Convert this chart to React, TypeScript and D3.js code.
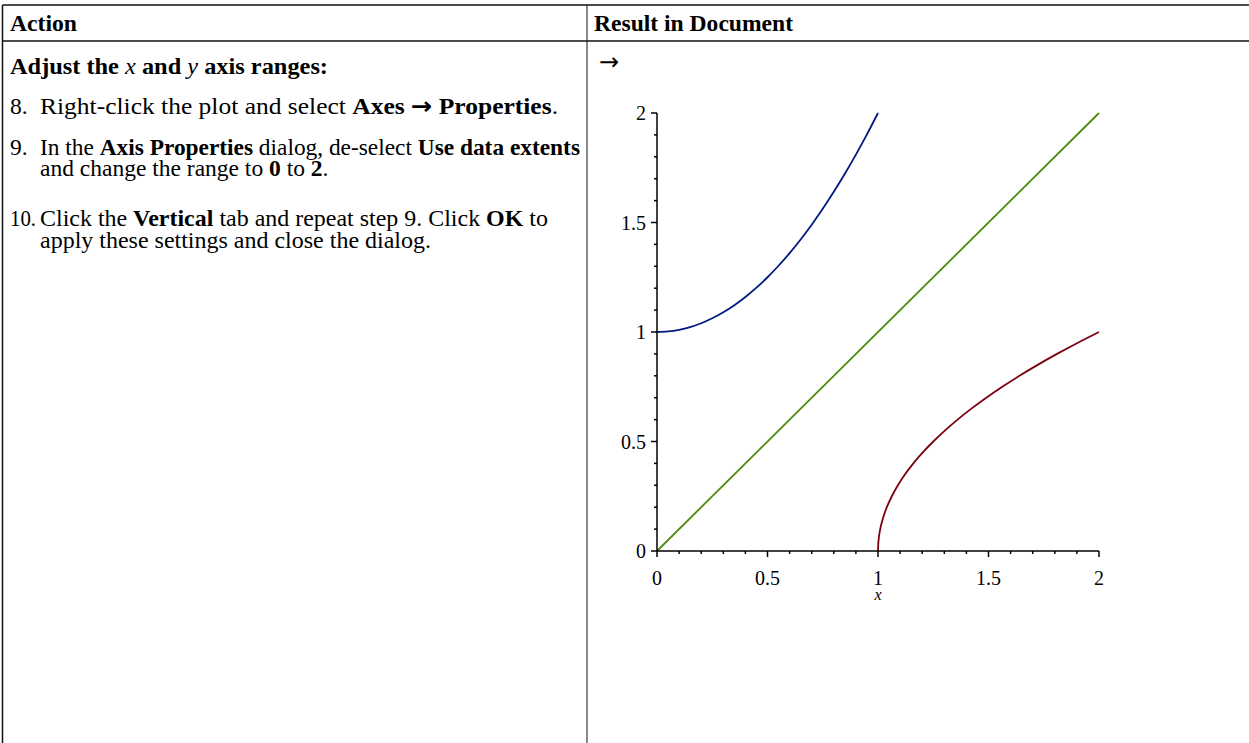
import React from "react";
import * as d3 from "d3";

// ---- data ----
const blueX = [0, 0.05, 0.1, 0.15, 0.2, 0.25, 0.3, 0.35, 0.4, 0.45, 0.5, 0.55, 0.6, 0.65, 0.7, 0.75, 0.8, 0.85, 0.9, 0.95, 1.0];
const blueY = [1, 1.0025, 1.01, 1.0225, 1.04, 1.0625, 1.09, 1.1225, 1.16, 1.2025, 1.25, 1.3025, 1.36, 1.4225, 1.49, 1.5625, 1.64, 1.7225, 1.81, 1.9025, 2.0];
const redX = [1, 1.0025, 1.01, 1.0225, 1.04, 1.0625, 1.09, 1.1225, 1.16, 1.2025, 1.25, 1.3025, 1.36, 1.4225, 1.49, 1.5625, 1.64, 1.7225, 1.81, 1.9025, 2.0];
const redY = [0, 0.05, 0.1, 0.15, 0.2, 0.25, 0.3, 0.35, 0.4, 0.45, 0.5, 0.55, 0.6, 0.65, 0.7, 0.75, 0.8, 0.85, 0.9, 0.95, 1.0];
const greenX = [0, 2];
const greenY = [0, 2];
const majorTicks = [0, 0.5, 1, 1.5, 2];
const tickLabels = ["0", "0.5", "1", "1.5", "2"];
const minorTicks = [0.1, 0.2, 0.3, 0.4, 0.6, 0.7, 0.8, 0.9, 1.1, 1.2, 1.3, 1.4, 1.6, 1.7, 1.8, 1.9];

const W = 1249;
const H = 743;
const FONT = "'Liberation Serif', 'Times New Roman', serif";
const ARROW_FONT = "'DejaVu Sans', sans-serif";
const FS = 23.5;

type Part = { t: string; b?: boolean; i?: boolean; a?: boolean };

export default function App() {
  const x = d3.scaleLinear().domain([0, 2]).range([657, 1099]);
  const y = d3.scaleLinear().domain([0, 2]).range([551, 113]);
  const line = d3
    .line<[number, number]>()
    .x((d) => x(d[0]))
    .y((d) => y(d[1]))
    .curve(d3.curveCatmullRom.alpha(0.5));
  const zip = (a: number[], b: number[]) => a.map((v, i) => [v, b[i]] as [number, number]);

  const bodyLines: { n?: string; nw?: number; parts: Part[]; y: number; end?: number }[] = [
    { n: "8.", y: 114, end: 558, parts: [{ t: "Right-click the plot and select " }, { t: "Axes ", b: true }, { t: "\u2192", b: true, a: true }, { t: " Properties", b: true }, { t: "." }] },
    { n: "9.", y: 155, end: 580, parts: [{ t: "In the " }, { t: "Axis Properties", b: true }, { t: " dialog, de-select " }, { t: "Use data extents", b: true }] },
    { y: 176, parts: [{ t: "and change the range to " }, { t: "0", b: true }, { t: " to " }, { t: "2", b: true }, { t: "." }] },
    { n: "10.", nw: 26, y: 226, end: 548, parts: [{ t: "Click the " }, { t: "Vertical", b: true }, { t: " tab and repeat step 9. Click " }, { t: "OK", b: true }, { t: " to" }] },
    { y: 248, end: 431, parts: [{ t: "apply these settings and close the dialog." }] },
  ];

  return (
    <svg
      width={W}
      height={H}
      style={{ position: "absolute", left: 0, top: 0, background: "#fff" }}
      fontFamily={FONT}
    >
      {/* table borders */}
      <g stroke="#111" fill="none">
        <line x1={2.5} y1={5} x2={W} y2={5} strokeWidth={1.5} />
        <line x1={2.5} y1={41} x2={W} y2={41} strokeWidth={1.5} />
        <line x1={2.5} y1={5} x2={2.5} y2={H} strokeWidth={1.5} />
        <line x1={587} y1={5} x2={587} y2={H} strokeWidth={1} />
      </g>

      {/* header */}
      <text x={10} y={31} fontSize={FS} fontWeight="bold" textLength={67} lengthAdjust="spacingAndGlyphs">Action</text>
      <text x={594} y={31} fontSize={FS} fontWeight="bold" textLength={199} lengthAdjust="spacingAndGlyphs">Result in Document</text>

      {/* left column */}
      <text x={10} y={74} fontSize={FS} fontWeight="bold" textLength={318} lengthAdjust="spacingAndGlyphs" xmlSpace="preserve">
        <tspan>Adjust the </tspan>
        <tspan fontStyle="italic" fontWeight="normal">x</tspan>
        <tspan> and </tspan>
        <tspan fontStyle="italic" fontWeight="normal">y</tspan>
        <tspan> axis ranges:</tspan>
      </text>
      {bodyLines.map((l, k) => (
        <g key={k}>
          {l.n && (
            <text x={10} y={l.y} fontSize={FS} textLength={l.nw} lengthAdjust="spacingAndGlyphs">{l.n}</text>
          )}
          <text
            x={40}
            y={l.y}
            fontSize={FS}
            xmlSpace="preserve"
            textLength={l.end ? l.end - 40 : undefined}
            lengthAdjust="spacingAndGlyphs"
          >
            {l.parts.map((p, j) => (
              <tspan
                key={j}
                fontWeight={p.b ? "bold" : "normal"}
                fontStyle={p.i ? "italic" : "normal"}
                fontFamily={p.a ? ARROW_FONT : undefined}
              >
                {p.t}
              </tspan>
            ))}
          </text>
        </g>
      ))}

      {/* arrow */}
      <text x={599} y={70} fontSize={24} fontFamily={ARROW_FONT}>{"\u2192"}</text>

      {/* plot */}
      <g>
        <path d={line(zip(greenX, greenY)) || ""} fill="none" stroke="#4d8a0c" strokeWidth={1.8} />
        <path d={line(zip(blueX, blueY)) || ""} fill="none" stroke="#001a80" strokeWidth={1.8} />
        <path d={line(zip(redX, redY)) || ""} fill="none" stroke="#7a0010" strokeWidth={1.8} />

        {/* axes */}
        <line x1={x(0)} y1={y(0)} x2={x(2)} y2={y(0)} stroke="#000" strokeWidth={1.5} />
        <line x1={x(0)} y1={y(0)} x2={x(0)} y2={y(2)} stroke="#000" strokeWidth={1.5} />
        {majorTicks.map((t, i) => (
          <g key={"mx" + i}>
            <line x1={x(t)} x2={x(t)} y1={y(0)} y2={y(0) + 6} stroke="#000" strokeWidth={1.5} />
            <line x1={x(0)} x2={x(0) - 6} y1={y(t)} y2={y(t)} stroke="#000" strokeWidth={1.5} />
            <text x={x(t)} y={585} fontSize={20} textAnchor="middle">{tickLabels[i]}</text>
            <text x={646} y={y(t) + 7} fontSize={20} textAnchor="end">{tickLabels[i]}</text>
          </g>
        ))}
        {minorTicks.map((t, i) => (
          <g key={"mn" + i}>
            <line x1={x(t)} x2={x(t)} y1={y(0)} y2={y(0) + 3} stroke="#000" strokeWidth={1.5} />
            <line x1={x(0)} x2={x(0) - 3} y1={y(t)} y2={y(t)} stroke="#000" strokeWidth={1.5} />
          </g>
        ))}
        <text x={x(1)} y={600} fontSize={16} fontStyle="italic" textAnchor="middle">x</text>
      </g>
    </svg>
  );
}
